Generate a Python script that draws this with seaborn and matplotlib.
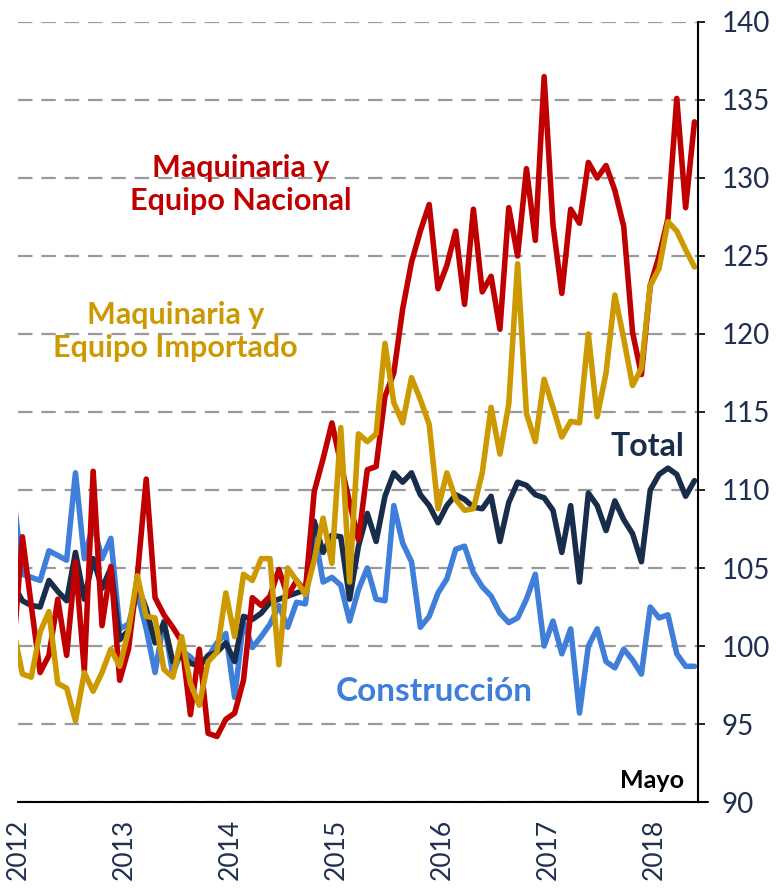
import numpy as np
import pandas as pd
import matplotlib
matplotlib.use("Agg")
import matplotlib.pyplot as plt
import seaborn as sns

# ---- data (Dec-2011 .. May-2018, monthly index) ----
meses = pd.date_range("2011-12-01", "2018-05-01", freq="MS")

nacional = [100.0,
    107.0, 102.6, 98.3, 99.4, 103.0, 99.4, 105.4, 98.4, 111.2, 101.3, 105.1, 97.8,
    99.8, 104.5, 110.7, 103.1, 102.0, 101.2, 100.3, 95.6, 99.8, 94.4, 94.2, 95.3,
    95.7, 97.8, 103.1, 102.6, 103.2, 104.9, 103.2, 104.2, 103.5, 109.9, 112.0, 114.3,
    111.7, 109.2, 106.8, 111.3, 111.5, 116.0, 117.5, 121.6, 124.6, 126.6, 128.3, 122.9,
    124.4, 126.6, 121.9, 128.0, 122.7, 123.7, 120.3, 128.1, 125.0, 130.6, 126.0, 136.5,
    127.0, 122.6, 128.0, 127.1, 131.0, 130.0, 130.8, 129.2, 126.9, 120.1, 117.4, 123.1,
    125.0, 127.4, 135.1, 128.1, 133.6]

importado = [101.0,
    98.2, 98.0, 100.9, 102.2, 97.6, 97.3, 95.2, 98.3, 97.1, 98.3, 99.8, 98.7,
    101.0, 104.5, 101.9, 101.8, 98.5, 98.0, 100.6, 97.6, 96.2, 99.0, 99.6, 103.4,
    100.6, 104.6, 104.2, 105.6, 105.6, 98.8, 105.0, 104.2, 103.3, 105.5, 108.2, 105.3,
    114.0, 104.1, 113.6, 113.1, 113.6, 119.4, 115.6, 114.3, 117.2, 115.8, 114.2, 108.8,
    111.1, 109.4, 108.7, 108.8, 111.1, 115.3, 112.3, 115.5, 124.5, 114.9, 113.1, 117.1,
    115.3, 113.4, 114.4, 114.3, 120.0, 114.7, 117.5, 122.5, 119.7, 116.7, 117.8, 123.1,
    124.2, 127.2, 126.6, 125.4, 124.3]

total = [103.9,
    102.9, 102.6, 102.5, 104.2, 103.5, 102.9, 106.0, 103.0, 105.6, 103.7, 105.0, 100.4,
    101.0, 103.9, 102.4, 100.2, 101.5, 99.0, 99.4, 98.9, 98.7, 99.4, 99.6, 100.2,
    99.0, 101.9, 101.7, 102.1, 102.8, 103.0, 103.2, 103.4, 103.6, 108.0, 106.0, 107.1,
    107.0, 103.0, 106.4, 108.5, 106.7, 109.6, 111.1, 110.5, 111.1, 109.7, 109.0, 107.9,
    109.0, 109.7, 109.4, 108.9, 108.8, 109.6, 106.7, 109.2, 110.5, 110.3, 109.7, 109.5,
    108.7, 106.0, 109.0, 104.1, 109.8, 109.0, 107.4, 109.3, 108.1, 107.2, 105.4, 110.0,
    111.0, 111.4, 111.0, 109.6, 110.6]

construccion = [109.6,
    104.6, 104.4, 104.2, 106.1, 105.8, 105.5, 111.1, 105.6, 107.8, 105.6, 106.9, 101.1,
    101.4, 103.4, 101.1, 98.3, 101.6, 98.2, 99.7, 99.3, 98.7, 99.3, 100.2, 100.8,
    96.7, 101.6, 99.9, 100.6, 101.4, 102.6, 101.2, 102.8, 102.7, 107.4, 104.1, 104.4,
    103.9, 101.6, 103.6, 105.0, 103.0, 102.9, 109.0, 106.6, 105.4, 101.2, 101.9, 103.4,
    104.3, 106.2, 106.4, 104.7, 103.8, 103.2, 102.1, 101.5, 101.8, 103.0, 104.6, 100.0,
    101.6, 99.5, 101.1, 95.7, 100.0, 101.1, 99.0, 98.6, 99.8, 99.1, 98.2, 102.5,
    101.8, 102.0, 99.5, 98.7, 98.7]

series = ["Construcción", "Total", "Maquinaria y Equipo Nacional", "Maquinaria y Equipo Importado"]
colores = {"Construcción": "#3F7FDA", "Total": "#182C4C",
           "Maquinaria y Equipo Nacional": "#C00000",
           "Maquinaria y Equipo Importado": "#CC9900"}
anios = [2012, 2013, 2014, 2015, 2016, 2017, 2018]
yticks = [90, 95, 100, 105, 110, 115, 120, 125, 130, 135, 140]

# ---- long form table ----
xpos = meses.year + (meses.month - 0.5) / 12.0
valores = {"Construcción": construccion, "Total": total,
           "Maquinaria y Equipo Nacional": nacional,
           "Maquinaria y Equipo Importado": importado}
df = pd.concat([pd.DataFrame({"x": xpos, "valor": valores[s], "serie": s}) for s in series],
               ignore_index=True)

sns.set_style("white")
plt.rcParams["font.family"] = ["Lato", "DejaVu Sans"]

fig = plt.figure(figsize=(7.81, 8.88), dpi=100)
ax = fig.add_axes([18/781, 1-802/888, 680/781, 780/888])

sns.lineplot(data=df, x="x", y="valor", hue="serie", hue_order=series,
             palette=colores, linewidth=4.0, legend=False, ax=ax, sort=False)

ax.set_xlim(2012, 2012 + 76.9/12)
ax.set_ylim(90, 140)
ax.set_xlabel("")
ax.set_ylabel("")

tick_col = "#1F2F4F"
ax.set_xticks(anios)
ax.set_xticklabels([str(a) for a in anios], rotation=90, fontsize=19, color=tick_col)
ax.yaxis.tick_right()
ax.set_yticks(yticks)
ax.set_yticklabels([str(v) for v in yticks], fontsize=20, color=tick_col)
ax.tick_params(axis="x", direction="out", length=8, width=1.5, color="black", pad=4)
ax.tick_params(axis="y", direction="out", length=5, width=1.2, color="black", pad=12)

ax.grid(axis="y", color="#9A9A9A", linewidth=1.6, linestyle=(0, (6.5, 4)))
ax.grid(axis="x", visible=False)
for side in ["left", "top"]:
    ax.spines[side].set_visible(False)
for side in ["right", "bottom"]:
    ax.spines[side].set_visible(True)
    ax.spines[side].set_color("black")
    ax.spines[side].set_linewidth(1.5)
ax.plot([1.0, 1.015], [0, 0], transform=ax.transAxes, color="black", lw=1.5, clip_on=False)

ax.text(0.328, 0.792, "Maquinaria y\nEquipo Nacional", transform=ax.transAxes,
        color="#C00000", fontsize=22, fontweight="bold", ha="center", va="center",
        linespacing=1.2)
ax.text(0.232, 0.603, "Maquinaria y\nEquipo Importado", transform=ax.transAxes,
        color="#CC9900", fontsize=22, fontweight="bold", ha="center", va="center",
        linespacing=1.2)
ax.text(0.925, 0.456, "Total", transform=ax.transAxes, color="#182C4C",
        fontsize=23, fontweight="bold", ha="center", va="center")
ax.text(0.612, 0.142, "Construcción", transform=ax.transAxes, color="#3F7FDA",
        fontsize=24, fontweight="bold", ha="center", va="center")
ax.text(0.933, 0.027, "Mayo", transform=ax.transAxes, color="black",
        fontsize=18, fontweight="bold", ha="center", va="center")

fig.savefig("out.png", dpi=100)
